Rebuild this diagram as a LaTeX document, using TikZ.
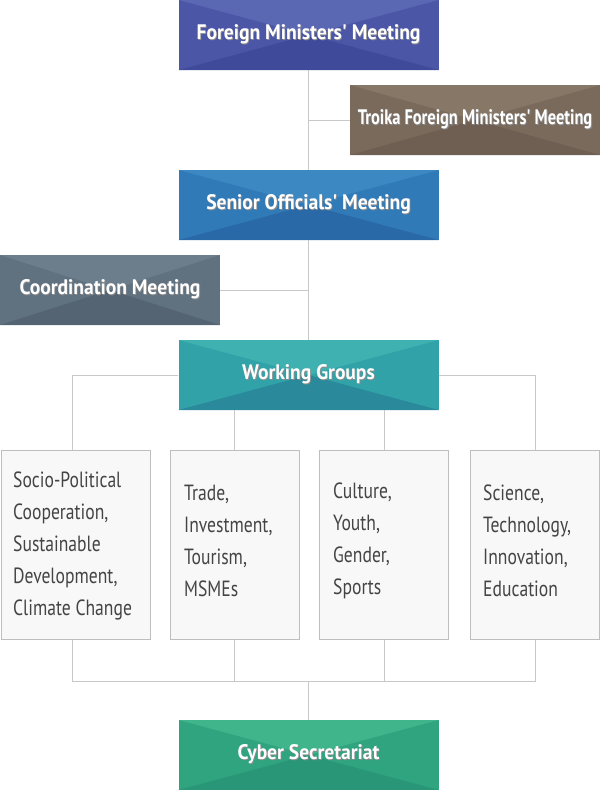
\documentclass[tikz,border=0pt]{standalone}
\usepackage{fontspec}
\setmainfont{PT Sans}[FakeStretch=0.8]
\newfontfamily\hdfont{PT Sans}[FakeStretch=0.93]
\newfontfamily\hdnarrow{PT Sans}[FakeStretch=0.78]
\definecolor{linec}{HTML}{C8C8C8}
\definecolor{fmmT}{HTML}{5A67B2}\definecolor{fmmS}{HTML}{4B56A6}\definecolor{fmmB}{HTML}{404A9A}
\definecolor{troT}{HTML}{877767}\definecolor{troS}{HTML}{7A6A5C}\definecolor{troB}{HTML}{6E5F52}
\definecolor{somT}{HTML}{3C88C3}\definecolor{somS}{HTML}{317AB8}\definecolor{somB}{HTML}{2A69A8}
\definecolor{crdT}{HTML}{6C7D8B}\definecolor{crdS}{HTML}{607180}\definecolor{crdB}{HTML}{556473}
\definecolor{wgT}{HTML}{40B1B1}\definecolor{wgS}{HTML}{31A3A8}\definecolor{wgB}{HTML}{2A899A}
\definecolor{cyT}{HTML}{40B48B}\definecolor{cyS}{HTML}{30A47E}\definecolor{cyB}{HTML}{299677}
\definecolor{boxfill}{HTML}{F8F8F8}\definecolor{boxline}{HTML}{BEBEBE}\definecolor{boxtext}{HTML}{444444}
\newcommand{\shtext}[1]{\makebox[0pt][l]{\raisebox{-1.2pt}{\hspace{0.8pt}\color{black!45}#1}}#1}
\tikzset{
  hbox/.style n args={3}{draw=none, fill=#2, inner sep=0pt, font=\hdfont\bfseries\fontsize{21}{25}\selectfont, text=white,
    path picture={
      \fill[#1] (path picture bounding box.north west) -- (path picture bounding box.north east) -- (path picture bounding box.center) -- cycle;
      \fill[#3] (path picture bounding box.south west) -- (path picture bounding box.south east) -- (path picture bounding box.center) -- cycle;
    }},
  wgbox/.style={draw=boxline, line width=1pt, fill=boxfill, minimum height=189pt, inner sep=0pt},
  wgtext/.style={anchor=west, align=left, text=boxtext, font=\fontsize{22}{32}\selectfont, inner sep=0pt},
  conn/.style={draw=linec, line width=1pt}
}
\begin{document}
\begin{tikzpicture}[x=1pt,y=-1pt]
\useasboundingbox (0,0) rectangle (600,790);
\coordinate (t1) at (308.5,120);
\coordinate (c1) at (308.5,290);
\coordinate (wl) at (72.5,375);
\coordinate (wr) at (535,375);
\coordinate (bl) at (72.5,681.5);
\coordinate (br) at (535,681.5);
\coordinate (bm) at (308.5,681.5);
% header boxes
\node[hbox={fmmT}{fmmS}{fmmB}, minimum width=260pt, minimum height=70pt] (fmm) at (308.5,35) {\shtext{Foreign Ministers' Meeting}};
\node[hbox={troT}{troS}{troB}, minimum width=250pt, minimum height=70pt, font=\hdnarrow\bfseries\fontsize{21}{25}\selectfont] (tro) at (475,120) {\shtext{Troika Foreign Ministers' Meeting}};
\node[hbox={somT}{somS}{somB}, minimum width=260pt, minimum height=70pt] (som) at (308.5,205) {\shtext{Senior Officials' Meeting}};
\node[hbox={crdT}{crdS}{crdB}, minimum width=220pt, minimum height=70pt] (crd) at (110,290) {\shtext{Coordination Meeting}};
\node[hbox={wgT}{wgS}{wgB}, minimum width=260pt, minimum height=70pt] (wg) at (308.5,375) {\shtext{Working Groups}};
\node[hbox={cyT}{cyS}{cyB}, minimum width=260pt, minimum height=70pt] (cy) at (308.5,755) {\shtext{Cyber Secretariat}};
% working group boxes
\node[wgbox, minimum width=149pt] (g1) at (75.5,545) {};
\node[wgbox, minimum width=129pt] (g2) at (234.5,545) {};
\node[wgbox, minimum width=129pt] (g3) at (384,545) {};
\node[wgbox, minimum width=129pt] (g4) at (534.5,545) {};
\node[wgtext] (g1t) at (13,546) {Socio-Political\\Cooperation,\\Sustainable\\Development,\\Climate Change};
\node[wgtext] (g2t) at (184,541) {Trade,\\Investment,\\Tourism,\\MSMEs};
\node[wgtext] (g3t) at (333,541) {Culture,\\Youth,\\Gender,\\Sports};
\node[wgtext] (g4t) at (483,541) {Science,\\Technology,\\Innovation,\\Education};
% connectors
\path[conn] (fmm.south) -- (som.north);
\path[conn] (t1) -- (tro.west);
\path[conn] (som.south) -- (wg.north);
\path[conn] (crd.east) -- (c1);
\path[conn] (wg.west) -- (wl) -- (wl |- g1.north);
\path[conn] (wg.east) -- (wr) -- (wr |- g4.north);
\path[conn] (g2.north) -- (g2.north |- wg.south);
\path[conn] (g3.north) -- (g3.north |- wg.south);
\path[conn] (bl |- g1.south) -- (bl) -- (br) -- (br |- g4.south);
\path[conn] (g2.south) -- (g2.south |- bm);
\path[conn] (g3.south) -- (g3.south |- bm);
\path[conn] (bm) -- (cy.north);
\end{tikzpicture}
\end{document}
